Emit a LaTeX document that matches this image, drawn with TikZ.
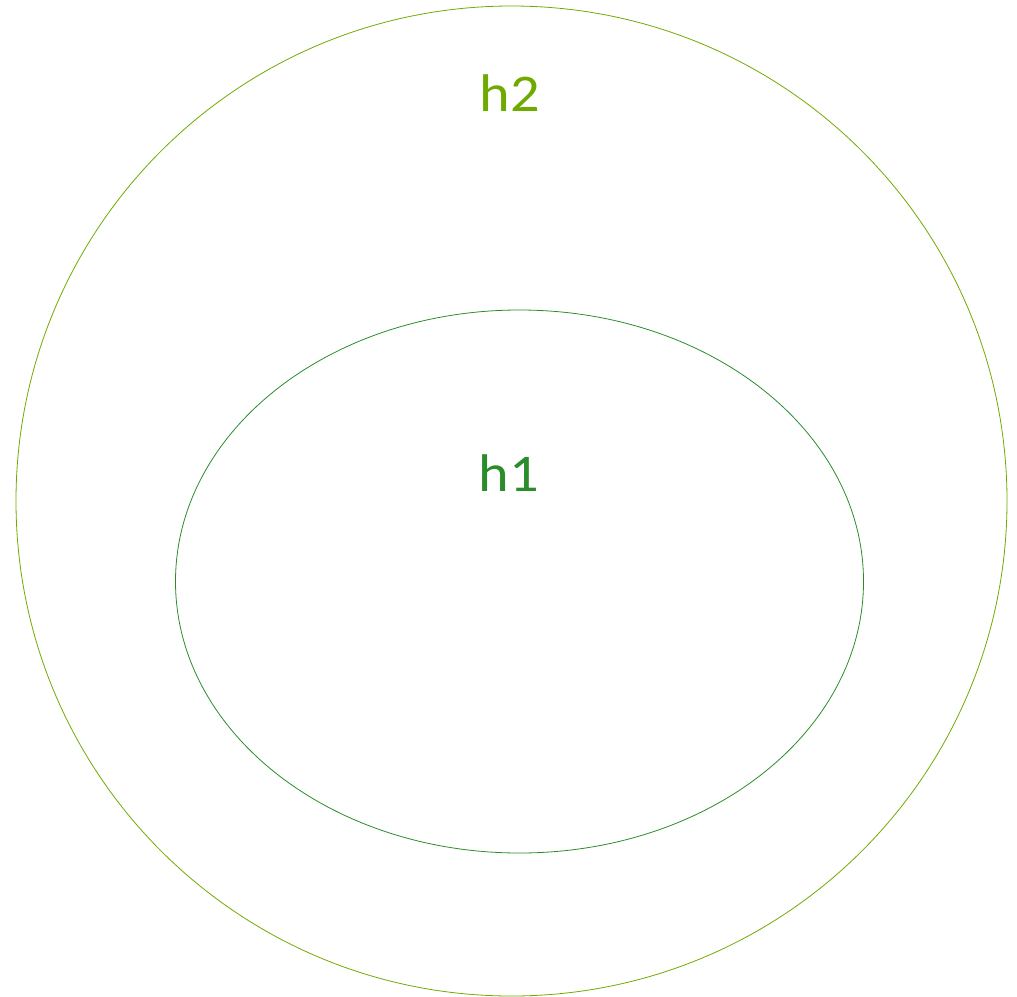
\documentclass[tikz,border=0pt]{standalone}
\usepackage{fontspec}
\setmainfont{Carlito}
\definecolor{olivegreen}{HTML}{6FAA00}
\definecolor{darkgreen}{HTML}{2A8C2A}
\begin{document}
\begin{tikzpicture}[x=1pt,y=-1pt,
  setline/.style={line width=0.8pt},
  setlabel/.style={font=\fontsize{53}{60}\selectfont, inner sep=0pt, xscale=1.1}]
\useasboundingbox (0,0) rectangle (1017,996);
\begin{scope}
\clip (0,0) rectangle (1017,996);
\draw[setline, olivegreen] (511.5,501) ellipse [x radius=495.5, y radius=495];
\end{scope}
\draw[setline, darkgreen] (519.5,581.5) ellipse [x radius=344, y radius=271.5];
\node[setlabel, text=olivegreen, anchor=base] (h2) at (510,111) {h2};
\node[setlabel, text=darkgreen, anchor=base] (h1) at (509,491) {h1};
\end{tikzpicture}
\end{document}
